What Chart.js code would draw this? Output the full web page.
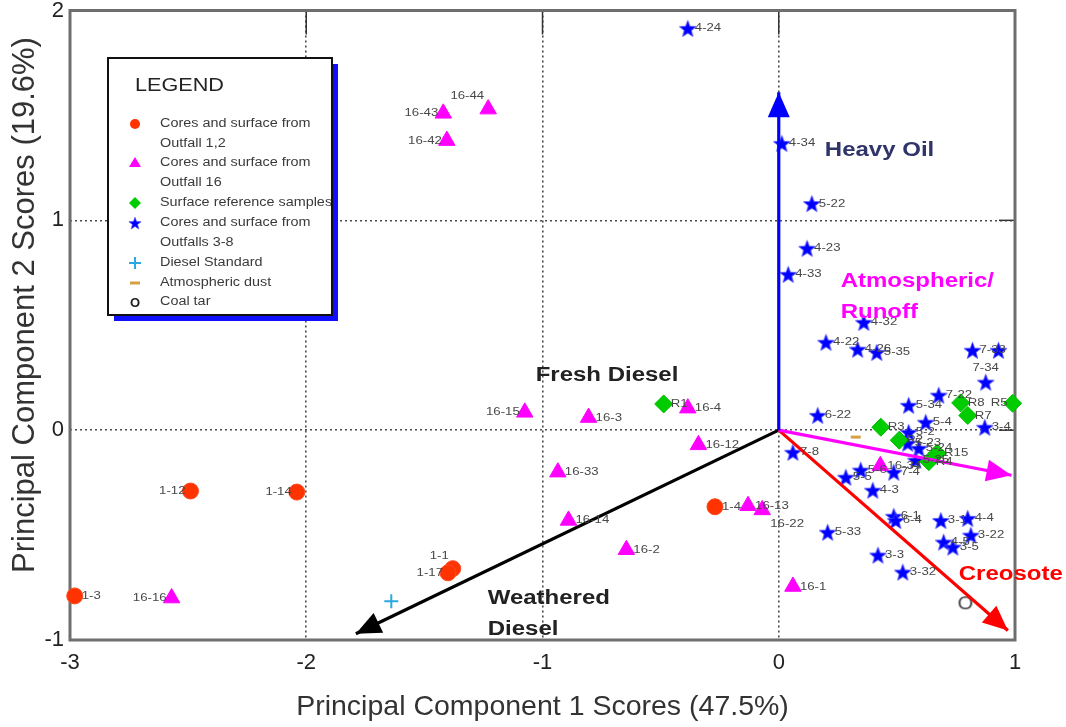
<!DOCTYPE html>
<html><head><meta charset="utf-8">
<script src="https://cdn.jsdelivr.net/npm/chart.js@4/dist/chart.umd.min.js"></script>
<style>html,body{margin:0;padding:0;background:#fff;}#wrap{width:1066px;height:727px;}</style>
</head><body><div id="wrap"><canvas id="c" width="1066" height="727"></canvas></div>
<script>
// ---------- DATA ----------
const xTickValues = [-3, -2, -1, 0, 1];
const yTickValues = [-1, 0, 1, 2];
const xTitle = 'Principal Component 1 Scores (47.5%)';
const yTitle = 'Principal Component 2 Scores (19.6%)';

const outfall12Names = ['1-3','1-12','1-14','1-1','1-17','1-4'];
const outfall12PC1 = [-2.98,-2.49,-2.04,-1.38,-1.40,-0.27];
const outfall12PC2 = [-0.79,-0.29,-0.295,-0.66,-0.68,-0.365];

const outfall16Names = ['16-44','16-43','16-42','16-15','16-3','16-4','16-12','16-33','16-14','16-2','16-13','16-22','16-16','16-1','16-34'];
const outfall16PC1 = [-1.23,-1.42,-1.405,-1.075,-0.805,-0.385,-0.34,-0.935,-0.89,-0.645,-0.13,-0.07,-2.57,0.06,0.43];
const outfall16PC2 = [1.53,1.51,1.38,0.085,0.06,0.105,-0.07,-0.20,-0.43,-0.57,-0.36,-0.38,-0.80,-0.745,-0.17];

const referenceNames = ['R1','R3','R8','R7','R5','R2','R15','R4'];
const referencePC1 = [-0.487,0.432,0.77,0.80,0.99,0.51,0.67,0.635];
const referencePC2 = [0.125,0.014,0.13,0.07,0.128,-0.048,-0.11,-0.15];

const outfall38Names = ['4-24','4-34','5-22','4-23','4-33','4-32','4-22','4-26','5-35','7-33','7-35','7-34','7-22','5-34','5-4','3-4','6-22','7-8','5-2','5-23','5-24','5-25','5-5','5-6','7-4','4-3','6-1','6-4','5-33','3-3','3-32','3-1','4-4','3-22','4-5','3-5'];
const outfall38PC1 = [-0.385,0.013,0.14,0.12,0.04,0.36,0.20,0.334,0.415,0.82,0.93,0.876,0.677,0.55,0.622,0.872,0.165,0.06,0.55,0.546,0.593,0.58,0.284,0.347,0.487,0.398,0.487,0.495,0.207,0.42,0.525,0.686,0.80,0.813,0.698,0.737];
const outfall38PC2 = [1.915,1.367,1.08,0.867,0.743,0.514,0.419,0.386,0.371,0.381,0.381,0.229,0.167,0.119,0.038,0.014,0.071,-0.105,-0.01,-0.062,-0.086,-0.143,-0.224,-0.19,-0.2,-0.286,-0.41,-0.43,-0.486,-0.595,-0.676,-0.43,-0.42,-0.50,-0.533,-0.557];

const dieselPC1 = [-1.64];
const dieselPC2 = [-0.815];
const dustPC1 = [0.326];
const dustPC2 = [-0.033];
const coalTarPC1 = [0.79];
const coalTarPC2 = [-0.825];

const vectorNames = ['Heavy Oil','Atmospheric/Runoff','Creosote','Weathered Diesel'];
const vectorPC1 = [0, 0.985, 0.97, -1.79];
const vectorPC2 = [1.61, -0.215, -0.955, -0.97];

const legendTitle = 'LEGEND';
const legendLabels = [
  ['Cores and surface from','Outfall 1,2'],
  ['Cores and surface from','Outfall 16'],
  ['Surface reference samples'],
  ['Cores and surface from','Outfalls 3-8'],
  ['Diesel Standard'],
  ['Atmospheric dust'],
  ['Coal tar']
];

// ---------- STYLE / PLACEMENT ----------
const labelPlacement = {'1-12':'l','1-14':'l','1-1':'al','1-17':'l','16-44':'al','16-43':'l','16-42':'l','16-15':'l','16-16':'l','16-22':'b','7-34':'a','R5':'l','7-35':'none'};
const vectorStyles = [
  {color:'#0000ff', text:['Heavy Oil'], tx:0.195, ty:1.333, tc:'#2f3469'},
  {color:'#ff00ff', text:['Atmospheric/','Runoff'], tx:0.262, ty:0.71, tc:'#ff00ff'},
  {color:'#ff0000', text:['Creosote'], tx:0.762, ty:-0.69, tc:'#ff0000'},
  {color:'#000000', text:['Weathered','Diesel'], tx:-1.232, ty:-0.80, tc:'#222222'}
];
const extraAnnotations = [{text:'Fresh Diesel', tx:-1.029, ty:0.262, tc:'#222222'}];
const FONT = '"Liberation Sans", Arial, sans-serif';
const SX = 1.2;

function pts(xs, ys){ return xs.map((x,i)=>({x:x, y:ys[i]})); }

function makeStar(size, color){
  const c = document.createElement('canvas'); c.width = size; c.height = size;
  const g = c.getContext('2d');
  const cx = size/2, cy = size/2 + size*0.05, R = size/2 - 0.6, r = R*0.42;
  g.beginPath();
  for (let i=0;i<10;i++){ const a = -Math.PI/2 + i*Math.PI/5; const rr = i%2 ? r : R; g.lineTo(cx+rr*Math.cos(a), cy+rr*Math.sin(a)); }
  g.closePath(); g.fillStyle = color; g.fill();
  g.strokeStyle = 'rgba(80,80,255,0.7)'; g.lineWidth = 1; g.stroke();
  return c;
}
function makeO(w, h, fs){
  const c = document.createElement('canvas'); c.width = w; c.height = h;
  const g = c.getContext('2d');
  g.font = fs + 'px ' + FONT; g.fillStyle = '#3a3a3a'; g.textAlign = 'center'; g.textBaseline = 'middle';
  g.save(); g.translate(w/2, h/2+1); g.scale(1.05,1); g.fillText('O', 0, 0); g.restore();
  return c;
}
const starImg = makeStar(19, '#0000ff');
const starSmall = makeStar(14, '#0000ff');
const oImg = makeO(20, 24, 19);

function stretchText(ctx, t, x, y, align, sx){
  const w = ctx.measureText(t).width * sx;
  const x0 = align === 'left' ? x : (align === 'right' ? x - w : x - w/2);
  ctx.save(); ctx.translate(x0, y); ctx.scale(sx, 1); ctx.textAlign = 'left'; ctx.fillText(t, 0, 0); ctx.restore();
}

// ---------- PLUGINS ----------
const framePlugin = {
  id: 'frame',
  beforeDatasetsDraw(chart){
    const {ctx, chartArea:a, scales} = chart;
    ctx.save();
    ctx.strokeStyle = '#333'; ctx.lineWidth = 1.5;
    [-2,-1,0].forEach(v=>{ const x = scales.x.getPixelForValue(v); ctx.beginPath(); ctx.moveTo(x, a.top); ctx.lineTo(x, a.top+24); ctx.stroke(); });
    [0,1].forEach(v=>{ const y = scales.y.getPixelForValue(v); ctx.beginPath(); ctx.moveTo(a.right, y); ctx.lineTo(a.right-16, y); ctx.stroke(); });
    ctx.strokeStyle = '#6e6e6e'; ctx.lineWidth = 3;
    ctx.strokeRect(a.left, a.top, a.right-a.left, a.bottom-a.top);
    ctx.restore();
  }
};
const yTitlePlugin = {
  id: 'yTitle',
  afterDraw(chart){
    const ctx = chart.ctx;
    ctx.save(); ctx.translate(25, 305); ctx.rotate(-Math.PI/2);
    ctx.font = '31px ' + FONT; ctx.fillStyle = '#333'; ctx.textAlign = 'center'; ctx.textBaseline = 'middle';
    ctx.fillText(yTitle, 0, 0); ctx.restore();
  }
};
const arrowPlugin = {
  id: 'arrows',
  afterDatasetsDraw(chart){
    const ctx = chart.ctx;
    chart.data.datasets.forEach((ds,i)=>{
      if (!ds.isVector) return;
      const p = chart.getDatasetMeta(i).data; const a = p[0], b = p[1];
      const ang = Math.atan2(b.y-a.y, b.x-a.x), L = 25, W = 11;
      const c = Math.cos(ang), s = Math.sin(ang);
      ctx.save(); ctx.fillStyle = ds.borderColor; ctx.beginPath();
      ctx.moveTo(b.x, b.y);
      ctx.lineTo(b.x - L*c + W*s, b.y - L*s - W*c);
      ctx.lineTo(b.x - L*c - W*s, b.y - L*s + W*c);
      ctx.closePath(); ctx.fill(); ctx.restore();
    });
  }
};
const labelPlugin = {
  id: 'pointNames',
  afterDatasetsDraw(chart){
    const ctx = chart.ctx;
    chart.data.datasets.forEach((ds,i)=>{
      if (!ds.pointNames) return;
      const meta = chart.getDatasetMeta(i);
      ctx.save();
      ctx.font = '11px ' + FONT; ctx.fillStyle = '#484848'; ctx.textBaseline = 'middle';
      meta.data.forEach((el,j)=>{
        const name = ds.pointNames[j]; const pl = labelPlacement[name] || 'r';
        if (pl === 'none') return;
        let x = el.x, y = el.y, align = 'left';
        if (pl === 'r') x += 7;
        else if (pl === 'l') { x -= 5; align = 'right'; }
        else if (pl === 'al') { x -= 4; y -= 13; align = 'right'; }
        else if (pl === 'a') { y -= 14; align = 'center'; }
        else if (pl === 'b') { x += 8; y += 14; }
        stretchText(ctx, name, x, y, align, SX);
      });
      ctx.restore();
    });
  }
};
const annotationPlugin = {
  id: 'annot',
  afterDatasetsDraw(chart){
    const {ctx, scales} = chart;
    ctx.save(); ctx.font = 'bold 20px ' + FONT; ctx.textBaseline = 'middle';
    vectorStyles.concat(extraAnnotations.map(e=>({text:[e.text], tx:e.tx, ty:e.ty, tc:e.tc}))).forEach(v=>{
      const x = scales.x.getPixelForValue(v.tx), y = scales.y.getPixelForValue(v.ty);
      ctx.fillStyle = v.tc;
      v.text.forEach((t,k)=> stretchText(ctx, t, x, y + k*31, 'left', SX));
    });
    ctx.restore();
  }
};
const legendPlugin = {
  id: 'boxLegend',
  afterDraw(chart){
    const ctx = chart.ctx;
    const bx = 108, by = 58, bw = 224, bh = 257;
    ctx.save();
    ctx.fillStyle = '#1010ff'; ctx.fillRect(bx+6, by+6, bw, bh);
    ctx.fillStyle = '#fff'; ctx.fillRect(bx, by, bw, bh);
    ctx.strokeStyle = '#111'; ctx.lineWidth = 2; ctx.strokeRect(bx, by, bw, bh);
    ctx.fillStyle = '#222'; ctx.font = '18px ' + FONT; ctx.textBaseline = 'middle';
    stretchText(ctx, legendTitle, 135, 86, 'left', SX);
    ctx.beginPath(); ctx.rect(bx+1, by+1, bw-2, bh-2); ctx.clip();
    const rowY = [124, 163, 203, 223, 263, 283, 302];
    ctx.font = '12px ' + FONT; ctx.fillStyle = '#3a3a3a';
    legendLabels.forEach((lines, k)=>{
      lines.forEach((t, m)=> stretchText(ctx, t, 160, rowY[k] + m*19.5, 'left', SX));
    });
    const mx = 135;
    ctx.fillStyle = '#ff3300'; ctx.beginPath(); ctx.arc(mx, rowY[0], 5, 0, Math.PI*2); ctx.fill();
    ctx.fillStyle = '#ff00ff'; ctx.beginPath(); ctx.moveTo(mx, rowY[1]-6); ctx.lineTo(mx+6, rowY[1]+4); ctx.lineTo(mx-6, rowY[1]+4); ctx.closePath(); ctx.fill();
    ctx.fillStyle = '#00cc00'; ctx.beginPath(); ctx.moveTo(mx, rowY[2]-6); ctx.lineTo(mx+6, rowY[2]); ctx.lineTo(mx, rowY[2]+6); ctx.lineTo(mx-6, rowY[2]); ctx.closePath(); ctx.fill();
    ctx.drawImage(starSmall, mx-7, rowY[3]-7);
    ctx.strokeStyle = '#2aa8e0'; ctx.lineWidth = 2; ctx.beginPath(); ctx.moveTo(mx-6, rowY[4]); ctx.lineTo(mx+6, rowY[4]); ctx.moveTo(mx, rowY[4]-6); ctx.lineTo(mx, rowY[4]+6); ctx.stroke();
    ctx.strokeStyle = '#d4a040'; ctx.lineWidth = 3; ctx.beginPath(); ctx.moveTo(mx-5, rowY[5]); ctx.lineTo(mx+5, rowY[5]); ctx.stroke();
    ctx.fillStyle = '#222'; ctx.font = 'bold 13px ' + FONT; ctx.textAlign = 'center'; ctx.fillText('O', mx, rowY[6]+1);
    ctx.restore();
  }
};

// ---------- DATASETS ----------
const vectorDatasets = vectorNames.map((n,i)=>({
  type:'line', label:n, isVector:true,
  data:[{x:0,y:0},{x:vectorPC1[i], y:vectorPC2[i]}],
  borderColor: vectorStyles[i].color, borderWidth: 3.2, pointRadius:0, fill:false, clip:false
}));
const pointDatasets = [
  {label:'Cores and surface from Outfall 1,2', data:pts(outfall12PC1,outfall12PC2), pointNames:outfall12Names,
   pointStyle:'circle', pointRadius:8, backgroundColor:'#ff3300', borderColor:'#ff4a20', borderWidth:1, clip:false},
  {label:'Cores and surface from Outfall 16', data:pts(outfall16PC1,outfall16PC2), pointNames:outfall16Names,
   pointStyle:'triangle', pointRadius:9.5, backgroundColor:'#ff00ff', borderColor:'#ff00ff', borderWidth:1, clip:false},
  {label:'Surface reference samples', data:pts(referencePC1,referencePC2), pointNames:referenceNames,
   pointStyle:'rectRot', pointRadius:9, backgroundColor:'#00cc00', borderColor:'#00c000', borderWidth:1, clip:false},
  {label:'Cores and surface from Outfalls 3-8', data:pts(outfall38PC1,outfall38PC2), pointNames:outfall38Names,
   pointStyle:starImg, pointRadius:9, clip:false},
  {label:'Diesel Standard', data:pts(dieselPC1,dieselPC2), pointStyle:'cross', pointRadius:7, borderColor:'#2aa8e0', borderWidth:2, clip:false},
  {label:'Atmospheric dust', data:pts(dustPC1,dustPC2), pointStyle:'line', pointRadius:5, borderColor:'#d4a040', borderWidth:3, clip:false},
  {label:'Coal tar', data:pts(coalTarPC1,coalTarPC2), pointStyle:oImg, pointRadius:8, clip:false}
];

new Chart(document.getElementById('c'), {
  type:'scatter',
  data:{ datasets: vectorDatasets.concat(pointDatasets) },
  options:{
    responsive:false, animation:false, devicePixelRatio:1,
    layout:{ padding:{ top:10, right:51, left:0, bottom:0 } },
    plugins:{ legend:{display:false}, tooltip:{enabled:false} },
    scales:{
      x:{
        type:'linear', min:xTickValues[0], max:xTickValues[xTickValues.length-1],
        afterBuildTicks:s=>{ s.ticks = xTickValues.map(v=>({value:v})); },
        afterFit:s=>{ s.height = 87; s.paddingLeft = 0; s.paddingRight = 0; },
        ticks:{ font:{size:22, family:FONT}, color:'#222', padding:10, maxRotation:0, autoSkip:false },
        grid:{ color:c=> (c.tick && (c.tick.value===-3 || c.tick.value===1)) ? 'rgba(0,0,0,0)' : '#4a4a4a', lineWidth:1.6, drawTicks:false },
        border:{ display:false, dash:[2,3] },
        title:{ display:true, text:xTitle, font:{size:28.5, family:FONT}, color:'#333', padding:{top:0, bottom:3} }
      },
      y:{
        type:'linear', min:yTickValues[0], max:yTickValues[yTickValues.length-1],
        afterBuildTicks:s=>{ s.ticks = yTickValues.map(v=>({value:v})); },
        afterFit:s=>{ s.width = 70; s.paddingTop = 0; s.paddingBottom = 0; },
        ticks:{ font:{size:22, family:FONT}, color:'#222', padding:6, autoSkip:false },
        grid:{ color:c=> (c.tick && (c.tick.value===-1 || c.tick.value===2)) ? 'rgba(0,0,0,0)' : '#4a4a4a', lineWidth:1.6, drawTicks:false },
        border:{ display:false, dash:[2,3] },
        title:{ display:false, text:yTitle }
      }
    }
  },
  plugins:[framePlugin, arrowPlugin, labelPlugin, annotationPlugin, legendPlugin, yTitlePlugin]
});
</script>
</body></html>
